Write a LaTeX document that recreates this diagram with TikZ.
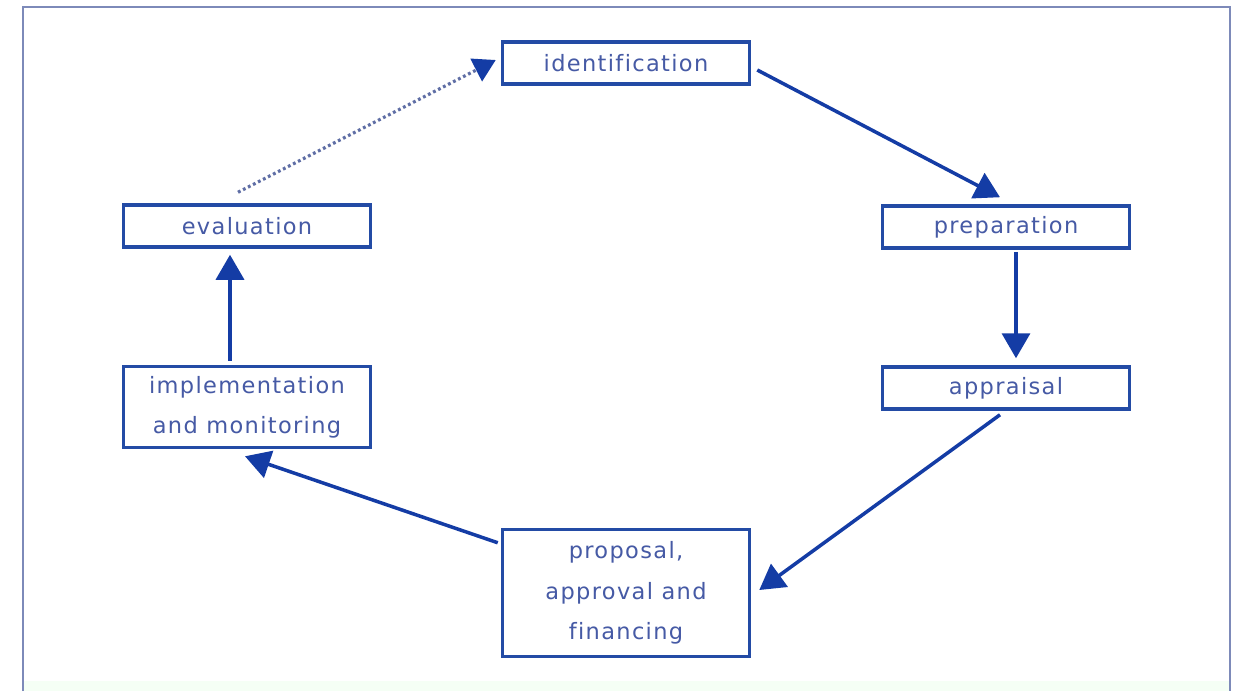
\documentclass[tikz,border=0pt]{standalone}
\usepackage{fontspec}
\setmainfont[LetterSpace=6,Ligatures={NoCommon}]{DejaVu Sans}
\usepackage{tikz}
\usetikzlibrary{arrows.meta,positioning,calc}

\definecolor{boxblue}{RGB}{35,75,165}
\definecolor{textblue}{RGB}{70,90,165}
\definecolor{arrowblue}{RGB}{20,60,165}
\definecolor{framegray}{RGB}{125,138,185}
\definecolor{dotgray}{RGB}{95,110,165}

\begin{document}
\begin{tikzpicture}[
  x=0.02cm, y=-0.02cm,
  font=\fontsize{12.8}{23}\selectfont,
  box/.style={draw=boxblue, line width=2pt, fill=white, text=textblue,
    minimum width=247*0.02cm, minimum height=42*0.02cm, inner sep=2pt, align=center},
  arrow/.style={-{Triangle[length=0.5cm,width=0.56cm]}, line width=2pt, draw=arrowblue, fill=arrowblue},
  dotarrow/.style={line width=1.8pt, dash pattern=on 1.6pt off 1.6pt, draw=dotgray,
    -{Triangle[length=0.44cm,width=0.5cm,fill=arrowblue,color=arrowblue]}},
]

% --- background and frame ---
\useasboundingbox (0,0) rectangle (1241,691);
\fill[white] (0,0) rectangle (1241,691);
\fill[green!4] (23,681) rectangle (1230,691);
\draw[framegray, line width=1.2pt] (23,691) -- (23,7) -- (1230,7) -- (1230,691);

% --- stages ---
\node[box] (ident) at (626,63) {identification};
\node[box] (prep) at (1006,227) {preparation};
\node[box] (appr) at (1006,388) {appraisal};
\node[box, minimum height=127*0.02cm] (prop) at (626,593) {proposal,\\approval and\\financing};
\node[box, minimum height=81*0.02cm] (impl) at (247,407) {implementation\\and monitoring};
\node[box] (eval) at (247,226) {evaluation};

% --- cycle arrows ---
\draw[arrow] ($(ident.east)+(6,7)$) -- ($(prep.north)+(-6,-7)$);
\draw[arrow] ($(prep.south)+(10,2)$) -- ($(appr.north)+(10,-7)$);
\draw[arrow] ($(appr.south)+(-6,4)$) -- ($(prop.east)+(8,-3)$);
\draw[arrow] ($(prop.north west)+(-3,15)$) -- ($(impl.south)+(-2,7)$);
\draw[arrow] ($(impl.north)+(-17,-4)$) -- ($(eval.south)+(-17,6)$);
\draw[dotarrow] ($(eval.north)+(-9,-11)$) -- ($(ident.west)+(-5,-3)$);

\end{tikzpicture}
\end{document}
